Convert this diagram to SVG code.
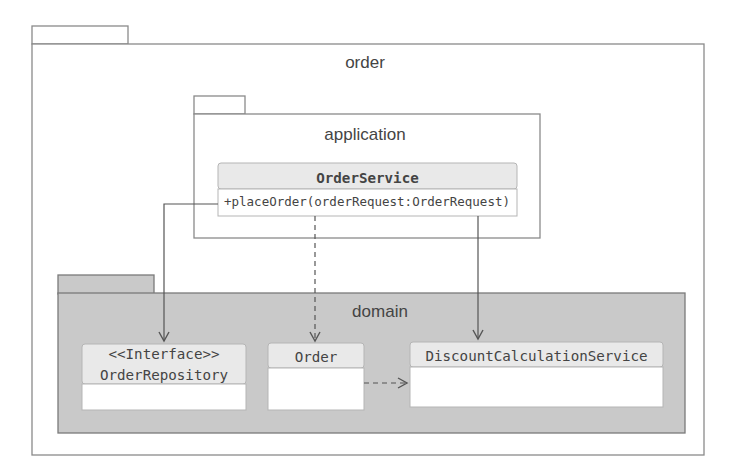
<svg xmlns="http://www.w3.org/2000/svg" width="738" height="466" viewBox="0 0 738 466">
<style>
.pkg{fill:#ffffff;stroke:#8a8a8a;stroke-width:1.3}
.pkgd{fill:#c9c9c9;stroke:#7a7a7a;stroke-width:1.3}
.plabel{font-family:"Liberation Sans",Arial,sans-serif;font-size:17px;fill:#444;text-anchor:middle}
.hdr{fill:#e9e9e9;stroke:#b5b5b5;stroke-width:1}
.body{fill:#ffffff;stroke:#b5b5b5;stroke-width:1}
.ctext{font-family:"DejaVu Sans Mono","Liberation Mono",monospace;font-size:14.2px;fill:#444;text-anchor:middle}
.mtext{font-family:"DejaVu Sans Mono","Liberation Mono",monospace;font-size:12.5px;fill:#444}
.conn{fill:none;stroke:#555;stroke-width:1.2}
.dash{stroke-dasharray:5,4}
</style>
<defs>
<marker id="open" markerWidth="12" markerHeight="12" refX="10" refY="6" orient="auto" markerUnits="userSpaceOnUse">
<path d="M1,1 L10,6 L1,11" fill="none" stroke="#555" stroke-width="1.4"/>
</marker>
</defs>
<g id="pkg-order">
<rect class="pkg" x="32" y="26" width="96" height="18"/>
<rect class="pkg" x="32" y="44" width="672" height="411"/>
<text class="plabel" x="365" y="68">order</text>
</g>
<g id="pkg-application">
<rect class="pkg" x="194" y="96" width="51" height="18"/>
<rect class="pkg" x="194" y="114" width="346" height="124"/>
<text class="plabel" x="365" y="140">application</text>
</g>
<g id="pkg-domain">
<rect class="pkgd" x="58" y="275" width="96" height="19"/>
<rect class="pkgd" x="58" y="293" width="627" height="140"/>
<text class="plabel" x="380" y="317">domain</text>
</g>
<g id="OrderService">
<rect class="hdr" x="218" y="163" width="299" height="26" rx="3"/>
<rect class="body" x="218" y="189" width="299" height="27"/>
<text class="ctext" x="367.5" y="183" font-weight="bold" font-size="14.8px">OrderService</text>
<text class="mtext" x="224" y="206">+placeOrder(orderRequest:OrderRequest)</text>
</g>
<g id="OrderRepository">
<rect class="hdr" x="82" y="344" width="164" height="40" rx="3"/>
<rect class="body" x="82" y="384" width="164" height="26"/>
<text class="ctext" x="164" y="359" font-size="12.5px">&lt;&lt;Interface&gt;&gt;</text>
<text class="ctext" x="164" y="380">OrderRepository</text>
</g>
<g id="Order">
<rect class="hdr" x="268" y="343" width="96" height="25" rx="3"/>
<rect class="body" x="268" y="368" width="96" height="42"/>
<text class="ctext" x="316" y="362">Order</text>
</g>
<g id="DiscountCalculationService">
<rect class="hdr" x="410" y="342" width="253" height="25" rx="3"/>
<rect class="body" x="410" y="367" width="253" height="40"/>
<text class="ctext" x="536.5" y="361">DiscountCalculationService</text>
</g>
<g id="connectors">
<path class="conn" d="M218,204 H164 V341" marker-end="url(#open)"/>
<path class="conn dash" d="M315,216 V341" marker-end="url(#open)"/>
<path class="conn" d="M478,216 V339" marker-end="url(#open)"/>
<path class="conn dash" d="M364,383 H407" marker-end="url(#open)"/>
</g>
</svg>
